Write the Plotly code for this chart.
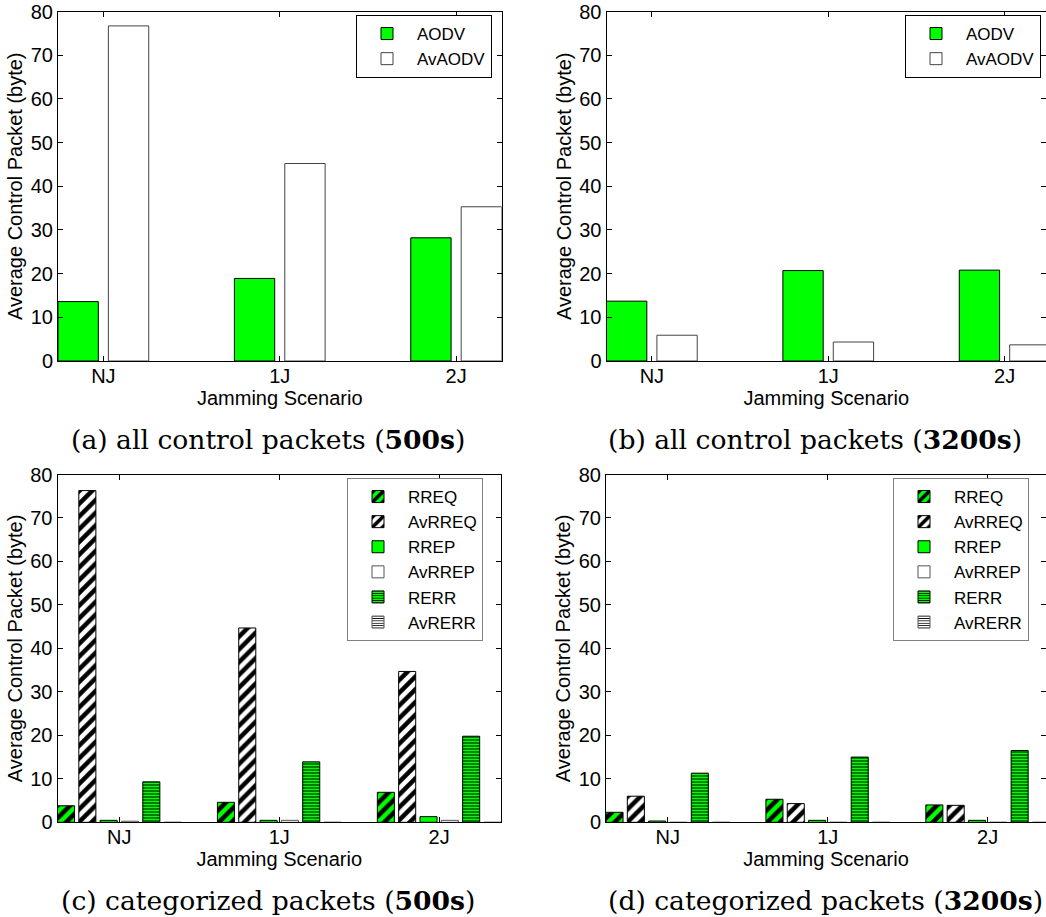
import plotly.graph_objects as go

# ---------------- data ----------------
scenarios = ['NJ', '1J', '2J']

# (a) all control packets, 500 s
aodv_500 = [13.6, 18.9, 28.2]
avaodv_500 = [76.7, 45.2, 35.3]

# (b) all control packets, 3200 s
aodv_3200 = [13.7, 20.7, 20.8]
avaodv_3200 = [5.9, 4.35, 3.7]

# (c) categorized packets, 500 s
rreq_500 = [3.8, 4.6, 6.9]
avrreq_500 = [76.3, 44.7, 34.7]
rrep_500 = [0.45, 0.45, 1.3]
avrrep_500 = [0.25, 0.45, 0.45]
rerr_500 = [9.3, 13.9, 19.8]
avrerr_500 = [0, 0, 0]

# (d) categorized packets, 3200 s
rreq_3200 = [2.3, 5.3, 4.0]
avrreq_3200 = [6.0, 4.3, 3.9]
rrep_3200 = [0.3, 0.45, 0.45]
avrrep_3200 = [0, 0, 0]
rerr_3200 = [11.3, 15.0, 16.5]
avrerr_3200 = [0, 0, 0]

captions = [
    '(a) all control packets (<b>500s</b>)',
    '(b) all control packets (<b>3200s</b>)',
    '(c) categorized packets (<b>500s</b>)',
    '(d) categorized packets (<b>3200s</b>)',
]
x_title = 'Jamming Scenario'
y_title = 'Average Control Packet (byte)'

# ---------------- styles ----------------
GREEN = '#00ff00'
SANS = 'Liberation Sans'
SERIF = 'DejaVu Serif'
W, H = 1046, 917

styles = {
    'AODV':   dict(color=GREEN,   shape='',  line='#000000'),
    'AvAODV': dict(color='white', shape='',  line='#444444'),
    'RREQ':   dict(color=GREEN,   shape='/', line='#000000'),
    'AvRREQ': dict(color='white', shape='/', line='#000000'),
    'RREP':   dict(color=GREEN,   shape='',  line='#000000'),
    'AvRREP': dict(color='white', shape='',  line='#555555'),
    'RERR':   dict(color=GREEN,   shape='-', line='#000000'),
    'AvRERR': dict(color='white', shape='-', line='#555555'),
}

panels = [
    [('AODV', aodv_500), ('AvAODV', avaodv_500)],
    [('AODV', aodv_3200), ('AvAODV', avaodv_3200)],
    [('RREQ', rreq_500), ('AvRREQ', avrreq_500), ('RREP', rrep_500),
     ('AvRREP', avrrep_500), ('RERR', rerr_500), ('AvRERR', avrerr_500)],
    [('RREQ', rreq_3200), ('AvRREQ', avrreq_3200), ('RREP', rrep_3200),
     ('AvRREP', avrrep_3200), ('RERR', rerr_3200), ('AvRERR', avrerr_3200)],
]


def bar_geometry(n):
    """MATLAB-like grouped bar layout: group width, bar width, offsets."""
    group = min(0.8, n / (n + 1.5))
    slot = group / n
    width = slot * 0.8
    offsets = [-group / 2 + slot * (i + 0.5) - width / 2 for i in range(n)]
    return group, width, offsets


def px_x(p):
    return p / W


def px_y(p):
    return 1 - p / H


# panel geometry in screen pixels: (left, right, top, bottom)
boxes = [
    (58.0, 501.5, 11.5, 361.0),
    (606.5, 1046.0, 11.5, 361.0),
    (57.5, 501.0, 474.5, 822.3),
    (606.0, 1046.0, 474.5, 822.3),
]

fig = go.Figure()

legend_names = ['legend', 'legend2', 'legend3', 'legend4']

for k, series in enumerate(panels):
    n = len(series)
    group, width, offsets = bar_geometry(n)
    ax = '' if k == 0 else str(k + 1)
    for (name, vals), off in zip(series, offsets):
        st = styles[name]
        marker = dict(color=st['color'], line=dict(color=st['line'], width=1))
        if st['shape']:
            dense = st['shape'] == '-'
            marker['pattern'] = dict(shape=st['shape'], fgcolor='black',
                                     bgcolor=st['color'],
                                     size=3 if dense else 9,
                                     solidity=0.35 if dense else 0.5,
                                     fillmode='replace')
        fig.add_trace(go.Bar(
            x=scenarios, y=vals, name=name, width=width, offset=off,
            marker=marker, xaxis='x' + ax, yaxis='y' + ax,
            legend=legend_names[k], showlegend=True,
        ))

layout = dict(
    template='none',
    width=W, height=H, margin=dict(l=0, r=0, t=0, b=0, pad=0),
    paper_bgcolor='white', plot_bgcolor='white', barmode='overlay',
    font=dict(family=SANS, size=19, color='black'),
    annotations=[],
)

AX_FONT = dict(family=SANS, size=20, color='black')

for k, (l, r, t, b) in enumerate(boxes):
    n = len(panels[k])
    group, width, offsets = bar_geometry(n)
    half = group / 2 - (group / n - width) / 2
    ref = boxes[0 if n == 2 else 2]
    scale = (ref[1] - ref[0]) / (2 + 2 * half)
    x0 = -half
    x1 = x0 + (r - l) / scale
    ax = '' if k == 0 else str(k + 1)
    layout['xaxis' + ax] = dict(
        domain=[px_x(l), px_x(r)], anchor='y' + ax, type='category',
        range=[x0, x1], showline=True, linecolor='black', linewidth=1,
        mirror='ticks', ticks='inside', ticklen=5, tickcolor='black',
        showgrid=False, zeroline=False, automargin=False,
        tickfont=AX_FONT, ticklabelstandoff=-3,
        title=dict(text=x_title, font=AX_FONT, standoff=0),
    )
    layout['yaxis' + ax] = dict(
        domain=[px_y(b), px_y(t)], anchor='x' + ax, range=[0, 80],
        tick0=0, dtick=10, showline=True, linecolor='black', linewidth=1,
        mirror='ticks', ticks='inside', ticklen=5, tickcolor='black',
        showgrid=False, zeroline=False, automargin=False,
        ticklabeloverflow='allow',
        tickfont=AX_FONT,
        title=dict(text=y_title, font=AX_FONT, standoff=2),
    )

legend_pos = [(356, 15, 'black'), (905, 15, 'black'),
              (347, 478, '#808080'), (893, 478, '#808080')]
for name, (lx, ly, bc) in zip(legend_names, legend_pos):
    layout[name] = dict(
        x=px_x(lx), y=px_y(ly), xanchor='left', yanchor='top',
        xref='paper', yref='paper', bgcolor='white', bordercolor=bc,
        borderwidth=1, font=dict(family=SANS, size=17, color='black'),
        itemwidth=50, traceorder='normal', tracegroupgap=0,
    )

cap_pos = [(267.5, 439), (814.5, 439), (268, 900), (825, 900)]
for text, (cx, cy) in zip(captions, cap_pos):
    layout['annotations'].append(dict(
        text=text, x=px_x(cx), y=px_y(cy), xref='paper', yref='paper',
        xanchor='center', yanchor='middle', showarrow=False,
        font=dict(family=SERIF, size=26.6, color='black'),
    ))

fig.update_layout(**layout)
# remove the page's default 8px body margin so the figure fills the window
fig.write_html('out.html', config={'displayModeBar': False},
               post_script="document.body.style.margin='0';"
                           "document.body.style.overflow='hidden';")
